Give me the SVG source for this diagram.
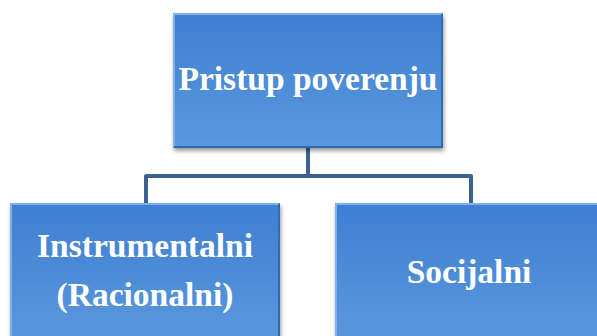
<svg xmlns="http://www.w3.org/2000/svg" width="597" height="336" viewBox="0 0 597 336">
<defs>
<linearGradient id="g" x1="0" y1="0" x2="0" y2="1">
<stop offset="0" stop-color="#3e7fd2"/>
<stop offset="1" stop-color="#5b98dd"/>
</linearGradient>
<filter id="sh" x="-10%" y="-10%" width="120%" height="125%">
<feGaussianBlur in="SourceAlpha" stdDeviation="2"/>
<feOffset dx="1" dy="3"/>
<feComponentTransfer><feFuncA type="linear" slope="0.4"/></feComponentTransfer>
<feMerge><feMergeNode/><feMergeNode in="SourceGraphic"/></feMerge>
</filter>
</defs>
<style>
.box{fill:url(#g);filter:url(#sh)}
.bev{fill:none;stroke:#7fb0ea;stroke-width:2}
.bevd{fill:none;stroke:#2f6bb5;stroke-width:2}
.t{font-family:"Liberation Serif","Times New Roman",serif;font-weight:bold;fill:#fff;text-anchor:middle;font-size:33.5px}
.c{fill:none;stroke:#3b6291;stroke-width:4;stroke-linejoin:round}
</style>
<g id="connectors">
<path class="c" d="M308 148 V176 M146 203 V176 H471 V203"/>
</g>
<g id="top">
<rect class="box" x="173" y="13" width="270" height="135"/>
<path class="bev" d="M174 147 V14 H442"/>
<path class="bevd" d="M442 14 V147 H174"/>
<text class="t" x="308" y="90">Pristup poverenju</text>
</g>
<g id="left">
<rect class="box" x="10" y="203" width="270" height="140"/>
<path class="bev" d="M11 340 V204 H279"/>
<path class="bevd" d="M279 204 V340"/>
<text class="t" x="145" y="257">Instrumentalni</text>
<text class="t" x="145" y="306">(Racionalni)</text>
</g>
<g id="right">
<rect class="box" x="335" y="203" width="270" height="140"/>
<path class="bev" d="M336 340 V204 H604"/>
<text class="t" x="469" y="283">Socijalni</text>
</g>
</svg>
